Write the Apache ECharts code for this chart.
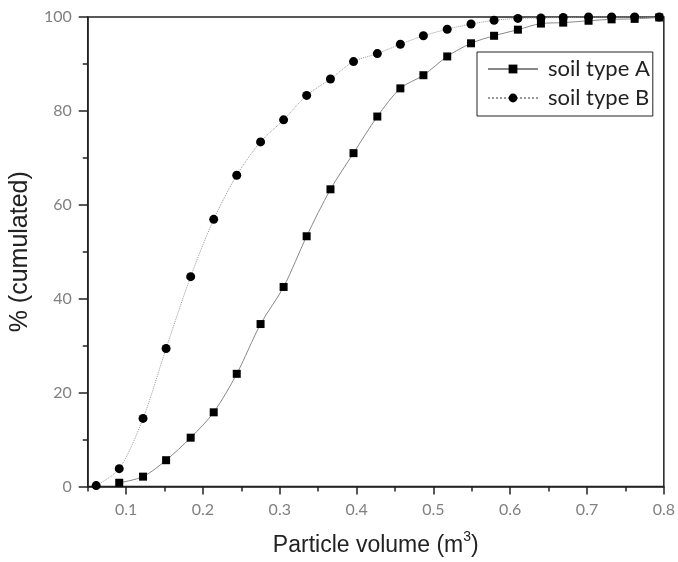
<!DOCTYPE html>
<html>
<head>
<meta charset="utf-8">
<script src="https://cdn.jsdelivr.net/npm/echarts@6/dist/echarts.min.js"></script>
<style>html,body{margin:0;padding:0;background:#fff}#c{width:678px;height:562px}</style>
</head>
<body>
<div id="c"></div>
<script>
// Particle volume (x)
const volumeA = [0.091,0.122,0.152,0.184,0.214,0.244,0.275,0.305,0.335,0.366,0.396,0.427,0.457,0.487,0.518,0.549,0.579,0.610,0.640,0.669,0.702,0.732,0.762,0.794];
const soilA = [0.8,2.1,5.6,10.4,15.8,24.0,34.6,42.5,53.3,63.3,71.0,78.8,84.8,87.6,91.6,94.4,96.0,97.3,98.6,98.8,99.2,99.5,99.6,99.9];
const volumeB = [0.061,0.091,0.122,0.152,0.184,0.214,0.244,0.275,0.305,0.335,0.366,0.396,0.427,0.457,0.487,0.518,0.549,0.579,0.610,0.640,0.669,0.702,0.732,0.762,0.794];
const soilB = [0.2,3.8,14.5,29.4,44.7,56.9,66.3,73.4,78.1,83.3,86.8,90.5,92.2,94.2,96.0,97.4,98.5,99.3,99.7,99.8,99.9,100,100,100,100];
const xMajorTicks = [0.1,0.2,0.3,0.4,0.5,0.6,0.7,0.8];
const xMinorTicks = [0.05,0.15,0.25,0.35,0.45,0.55,0.65,0.75];
const seriesNames = ['soil type A','soil type B'];

const labelFont = 'Lato';
const titleFont = '"Liberation Sans", Arial, sans-serif';
const chart = echarts.init(document.getElementById('c'), null, {renderer:'canvas'});
const pairs = (xs, ys) => xs.map((x,i)=>[x, ys[i]]);

chart.setOption({
  animation: false,
  backgroundColor: '#fff',
  grid: {left: 87, right: 14, top: 17, bottom: 75, show: true, borderColor: '#222', borderWidth: 1.5, backgroundColor: 'transparent'},
  legend: {
    orient: 'vertical', left: 477, top: 52,
    data: seriesNames,
    itemWidth: 50, itemHeight: 11, itemGap: 7,
    borderColor: '#222', borderWidth: 1, padding: [6, 3, 7, 10],
    textStyle: {fontFamily: labelFont, fontSize: 22, color: '#222', lineHeight: 20, padding: [0,0,0,5]}
  },
  xAxis: [{
    type: 'value', min: 0.05, max: 0.8,
    name: 'Particle volume (m{sup|3})', nameLocation: 'middle', nameGap: 44,
    nameTextStyle: {fontFamily: titleFont, fontSize: 23, color: '#222',
      rich: {sup: {fontFamily: titleFont, fontSize: 14, color: '#222', verticalAlign: 'top', padding: [0,0,16,0]}}},
    axisLine: {show: true, lineStyle: {color: '#222', width: 1.5}},
    axisTick: {show: true, length: 8, customValues: xMajorTicks, lineStyle: {color: '#222', width: 1.5}},
    axisLabel: {customValues: xMajorTicks, margin: 15, fontFamily: labelFont, fontSize: 16, color: '#808080', formatter: v => String(Math.round(v*10)/10)},
    splitLine: {show: false}
  }, {
    type: 'value', min: 0.05, max: 0.8, gridIndex: 0, position: 'bottom', offset: 0,
    axisLine: {show: false},
    axisTick: {show: true, length: 5, customValues: xMinorTicks, lineStyle: {color: '#222', width: 1.5}},
    axisLabel: {show: false},
    splitLine: {show: false}
  }],
  yAxis: {
    type: 'value', min: 0, max: 100, interval: 20,
    name: '% (cumulated)', nameLocation: 'middle', nameGap: 47,
    nameTextStyle: {fontFamily: titleFont, fontSize: 25, color: '#222'},
    axisLine: {show: true, lineStyle: {color: '#222', width: 1.5}},
    axisTick: {show: true, length: 9, lineStyle: {color: '#222', width: 1.5}},
    minorTick: {show: true, splitNumber: 2, length: 5, lineStyle: {color: '#222', width: 1.5}},
    axisLabel: {margin: 16, fontFamily: labelFont, fontSize: 16, color: '#808080'},
    splitLine: {show: false}
  },
  series: [{
    name: seriesNames[0], type: 'line', xAxisIndex: 0, z: 3,
    data: pairs(volumeA, soilA),
    smooth: 0.3, symbol: 'rect', symbolSize: 8,
    itemStyle: {color: '#000'},
    lineStyle: {color: '#888', width: 1, type: 'solid'}
  }, {
    name: seriesNames[1], type: 'line', xAxisIndex: 0, z: 2,
    data: pairs(volumeB, soilB),
    smooth: 0.3, symbol: 'circle', symbolSize: 9,
    itemStyle: {color: '#000'},
    lineStyle: {color: '#999', width: 1, type: 'dotted'}
  }]
});
</script>
</body>
</html>
